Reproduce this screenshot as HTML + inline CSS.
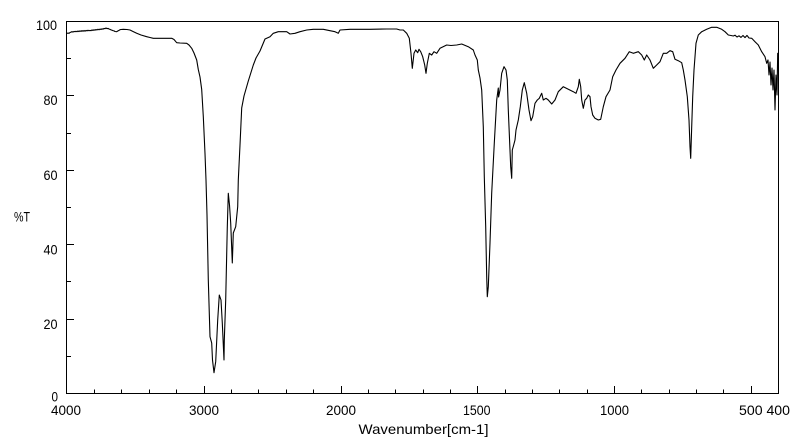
<!DOCTYPE html>
<html>
<head>
<meta charset="utf-8">
<style>
  html,body{margin:0;padding:0;background:#fff;}
  svg{display:block;}
  text{font-family:"Liberation Sans",sans-serif;font-size:14px;fill:#000;}
</style>
</head>
<body>
<svg width="800" height="441" viewBox="0 0 800 441" xmlns="http://www.w3.org/2000/svg">
  <rect x="0" y="0" width="800" height="441" fill="#fff"/>

  <!-- frame -->
  <rect x="66.5" y="21.5" width="712" height="372" fill="none" stroke="#000" stroke-width="1" shape-rendering="crispEdges"/>

  <!-- ticks -->
  <g stroke="#000" stroke-width="1" shape-rendering="crispEdges">
    <!-- x minor -->
    <path d="M94.5 393V389.5M121.5 393V389.5M149.5 393V389.5M176.5 393V389.5M231.5 393V389.5M258.5 393V389.5M286.5 393V389.5M313.5 393V389.5
             M368.5 393V389.5M395.5 393V389.5M423.5 393V389.5M450.5 393V389.5M505.5 393V389.5M532.5 393V389.5M559.5 393V389.5M587.5 393V389.5
             M641.5 393V389.5M669.5 393V389.5M696.5 393V389.5M723.5 393V389.5"/>
    <!-- x major -->
    <path d="M204.5 393V386M341.5 393V386M477.5 393V386M614.5 393V386M751.5 393V386"/>
    <!-- y major -->
    <path d="M67 95.5H74M67 170.5H74M67 244.5H74M67 319.5H74"/>
    <!-- y minor -->
    <path d="M67 58.5H71M67 133.5H71M67 207.5H71M67 281.5H71M67 356.5H71"/>
  </g>

  <!-- y labels -->
  <text x="36" y="30" textLength="21" lengthAdjust="spacingAndGlyphs">100</text>
  <text x="43.5" y="105" textLength="14" lengthAdjust="spacingAndGlyphs">80</text>
  <text x="43.5" y="180" textLength="14" lengthAdjust="spacingAndGlyphs">60</text>
  <text x="43.5" y="254.5" textLength="14" lengthAdjust="spacingAndGlyphs">40</text>
  <text x="43.5" y="329" textLength="14" lengthAdjust="spacingAndGlyphs">20</text>
  <text x="51.5" y="401.5" textLength="6.5" lengthAdjust="spacingAndGlyphs">0</text>
  <text x="14" y="221.5" textLength="16" lengthAdjust="spacingAndGlyphs">%T</text>

  <!-- x labels -->
  <text x="51" y="415" textLength="30" lengthAdjust="spacingAndGlyphs">4000</text>
  <text x="189" y="415" textLength="30" lengthAdjust="spacingAndGlyphs">3000</text>
  <text x="326" y="415" textLength="30" lengthAdjust="spacingAndGlyphs">2000</text>
  <text x="463" y="415" textLength="27.5" lengthAdjust="spacingAndGlyphs">1500</text>
  <text x="600" y="415" textLength="29" lengthAdjust="spacingAndGlyphs">1000</text>
  <text x="739" y="415" textLength="51" lengthAdjust="spacingAndGlyphs">500 400</text>
  <text x="358.5" y="434" textLength="130" lengthAdjust="spacingAndGlyphs">Wavenumber[cm-1]</text>

  <!-- spectrum -->
  <polyline fill="none" stroke="#000" stroke-width="1.1" stroke-linejoin="round" points="
    67,33.5 68,33 69,33.4 70,32.5 71,32.2 72,31.6 73,32.1 74,31.4 75,31.8 76,31.3 77,31.7 78,31 79,31.6 80,30.8 81,31.4 82,30.6 83,31.3 84,30.5 85,31.2 86,30.4 87,30.9 88,30.2 89,30.8 90,30.4 91,30.7 92,29.9 93,30.5 94,29.7 95,30.2 96,29.5 97,30 98,29.2 99,29.8 100,29 101,29.5 102,28.8 103,29.2 104,28.4 105,28.7 106,28 107,28.6 108,28.4 109,29 110,29.4 111,29.9 112,30.2 113,30.6 114,30.9 115,31.5 116.7,31.7 118,30.9 119,30.4 120,29.7 121,29.5 123.3,29.3 125,29.4 127,29.5 130,30 133,31.5 136.7,33.3 141,35 146.7,36.7 150,37.5 153.3,38.3 160,38.3 166,38.3 171.7,38.3 174,39.5 176.7,42.7 180,43 186.7,43.3 189,45 191.7,48.3 194,53 196.7,60 198.3,69.5 200,77 201.7,89.5 203.3,116.5 205,153.5 206,180 207,215 208.3,280 210,336.7 211.7,343 212.5,360 214,372.7 215.7,361.7 217.7,320 219.3,295 221,300 222.3,323 224,360 224.3,340 225.7,300 227.3,226.7 228.3,193.3 229.5,205 230.7,223 232.3,263 233.3,233 235.7,226.7 237.7,206.7 238.3,180 240,145 241.7,108 244,96 248.3,81 253.3,65 256,58 260,51 265,39 270,36.7 273.3,33.3 278.3,31.7 286.7,31.7 290,34 295,33.3 300,31.7 306.7,30 313.3,29.3 323.3,29.3 330,30.7 335,31.7 338.3,33.3 340,30 350,29.3 370,29.3 386.7,29 396.7,29 400,30 403.3,30 406.7,33.3 409.3,38.3 411,53.3 412.3,68.3 414,53.3 415.7,50 417.7,52.7 419,49.3 420.7,51.7 422.7,56.7 424.7,65 426,73.3 427.3,63.3 429.3,53.3 431.7,55 434,51.7 436.7,53.3 440,48.3 446.7,45 451,45.5 456.7,45 461.7,44 468.3,46.7 473.3,50 475,55 477.3,60 478.3,70 480,78 481.7,90 483.3,126.7 484.3,176.7 485.7,226.7 486.7,276.7 487.3,296.7 488.3,286.7 490,243 491.7,193 494.3,143 496.7,100 498.3,88 498.6,97 500,90 501.7,73.3 504,66.7 506,70 507.3,80 508.3,110 509.7,143.3 510.7,166.7 511.7,178.3 512.3,150 513.7,145 515,140 516,130 518.3,120 520.3,106.7 522.3,90 524.3,82.7 526.7,93.3 529,110 531,120.7 532.7,116.7 535,103.3 537.3,100 539.3,98.3 541.7,93.3 543.3,100 546,98.3 548.3,100 551.7,104 555,100 558.3,91.7 563.3,86.7 568.3,89.3 573.3,91.7 576,93.3 578.3,86.7 579.3,79.3 580.7,86.7 581.7,100 583.3,108.3 585,100 586.7,98.3 588.3,95 590,96.7 591,106.7 592.7,115 595,118.3 598.3,120 600.7,119.3 603.3,106.7 606,96.7 610,90 612.7,76.7 616,70 620,63.3 625,58.3 629.3,51.7 633.3,53.3 638.3,51.7 641.7,55 644.3,60 646.7,55 650,60 653.3,68.3 656.7,65 660,61.7 663.3,53.3 666.7,53.3 670,50.7 672.7,51.7 675,59.3 678.3,60.7 681.7,62.7 683.3,70 685,80 687.3,96.7 689,120 690,146.7 690.7,158.3 691.7,126.7 692.7,96.7 694,70 696,43.3 698.3,35 701.7,31.7 706.7,29.3 711.7,27.3 716.7,27.3 721.7,29.3 725,31.7 728.3,35 731,35.5 733.3,36 735,35.2 737,37 739,35.8 741,37.4 743,35.5 745,37.6 747,35.4 749,38 751.7,38.3 755,41.7 758.3,45 761.7,51.7 765,56.7 766.7,63.3 768,60 769,75 770,62 771,85 772,68 773,90 774,70 775,110 776,75 777,95 777.7,53.3 778,60"/>
</svg>
</body>
</html>
